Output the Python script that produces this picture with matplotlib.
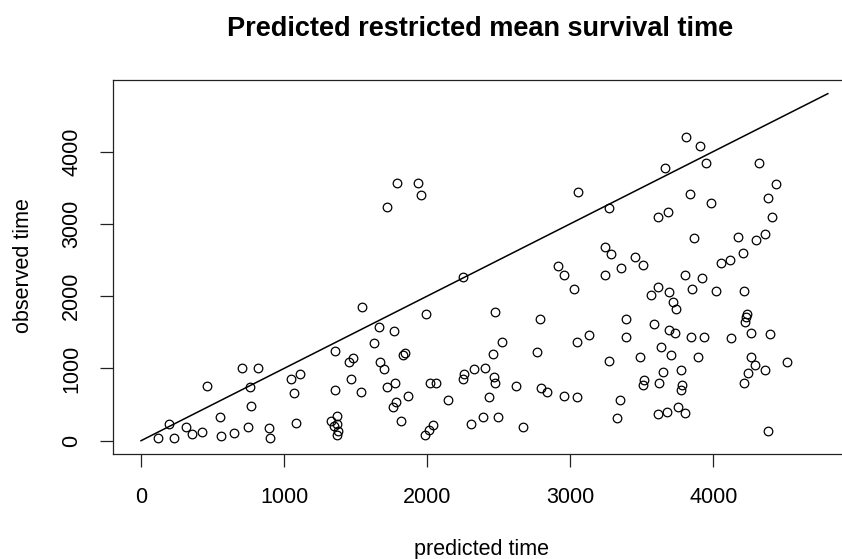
import matplotlib
matplotlib.use("Agg")
import matplotlib.pyplot as plt
import numpy as np

plt.rcParams['font.family'] = ['Liberation Sans', 'DejaVu Sans']

# predicted vs observed restricted mean survival time
predicted = [
  1787, 1933, 1954, 1717, 1542, 1666, 1768, 1631, 1356, 1845,
  1833, 1484, 1456, 1670, 1700, 708, 818, 459, 760, 1050,
  1111, 1071, 1356, 1465, 1535, 1717, 1773, 1868, 1780, 1759,
  1817, 769, 552, 196, 314, 354, 426, 119, 228, 561,
  650, 748, 897, 904, 1083, 1326, 1367, 1351, 1372, 1379,
  1367, 3809, 3906, 3946, 3662, 3054, 3268, 3839, 3983, 3680,
  3613, 3866, 3240, 3287, 3455, 3506, 3357, 2916, 2954, 3240,
  3799, 3918, 2252, 4321, 4437, 4379, 4410, 4172, 4361, 4300,
  4205, 4114, 4055, 1992, 2474, 2788, 3024, 3562, 3615, 3692,
  3715, 3739, 3848, 4020, 3387, 3387, 3583, 3692, 3734, 3841,
  3936, 3131, 3045, 3268, 3487, 3634, 3702, 3890, 3774, 3650,
  3515, 3506, 3622, 3778, 3771, 3347, 3326, 3611, 3674, 3750,
  3802, 2954, 3047, 2797, 2835, 2769, 2525, 2458, 2406, 2327,
  2257, 2248, 2469, 2476, 2434, 2620, 2022, 2061, 2143, 2306,
  2388, 2493, 2669, 2043, 2010, 1985, 4214, 4233, 4228, 4219,
  4122, 4263, 4398, 4263, 4291, 4517, 4361, 4242, 4212, 4379,
]
observed = [
  3568, 3568, 3398, 3237, 1845, 1568, 1513, 1356, 1241, 1217,
  1181, 1139, 1084, 1084, 987, 1010, 1010, 757, 738, 853,
  927, 655, 701, 853, 678, 738, 794, 618, 539, 470,
  272, 484, 332, 231, 194, 97, 116, 37, 37, 61,
  111, 194, 176, 37, 249, 272, 346, 203, 227, 134,
  79, 4196, 4076, 3845, 3768, 3436, 3223, 3416, 3283, 3163,
  3090, 2799, 2683, 2582, 2545, 2430, 2384, 2416, 2296, 2296,
  2297, 2246, 2268, 3845, 3550, 3357, 3090, 2817, 2855, 2776,
  2600, 2499, 2462, 1748, 1784, 1687, 2098, 2015, 2122, 2052,
  1914, 1822, 2098, 2075, 1687, 1434, 1614, 1531, 1494, 1434,
  1434, 1458, 1361, 1107, 1162, 1300, 1181, 1162, 974, 950,
  840, 770, 794, 770, 701, 563, 310, 369, 401, 470,
  387, 622, 600, 724, 678, 1223, 1361, 1203, 1010, 987,
  918, 853, 885, 794, 604, 757, 794, 794, 563, 231,
  332, 332, 194, 213, 148, 75, 2075, 1752, 1707, 1646,
  1416, 1494, 1476, 1162, 1047, 1088, 974, 932, 794, 134,
]
diag = [0, 4800]
xticks = [0, 1000, 2000, 3000, 4000]
yticks = [0, 1000, 2000, 3000, 4000]

W, H = 842, 559
fig = plt.figure(figsize=(W / 100, H / 100), dpi=100)
ax = fig.add_axes([113.3 / W, 1 - 454.3 / H, (846 - 113.3) / W, (454.3 - 80) / H])

ax.plot(predicted, observed, 'o', mfc='none', mec='black', ms=6.2, mew=0.9)
ax.plot(diag, diag, color='black', lw=1.1)

ax.set_xlim(-193.6, 4927)
ax.set_ylim(-188, 4989)
ax.set_xticks(xticks)
ax.set_yticks(yticks)
ax.set_xticklabels([str(v) for v in xticks])
ax.set_yticklabels([str(v) for v in yticks], rotation=90, va='center')
ax.tick_params(direction='out', length=9.5, width=0.9, labelsize=15.5, color='#222222')
ax.tick_params(axis='x', pad=14)
ax.tick_params(axis='y', pad=13)
for s in ax.spines.values():
  s.set_linewidth(0.9)
  s.set_color('#222222')

fig.text(482 / W, 1 - 549 / H, 'predicted time', ha='center', va='center', fontsize=15.5)
fig.text(23.5 / W, 1 - 266 / H, 'observed time', ha='center', va='center', rotation=90, fontsize=15.5)
fig.text(480 / W, 1 - 29 / H, 'Predicted restricted mean survival time', ha='center', va='center',
         fontsize=19.5, fontweight='bold')

fig.savefig('out.png', dpi=100)
